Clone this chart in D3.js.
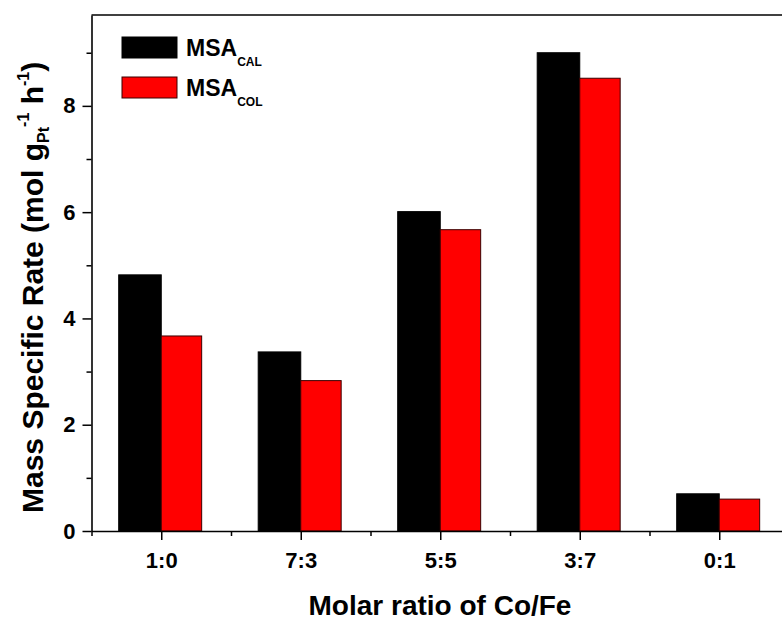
<!DOCTYPE html>
<html>
<head>
<meta charset="utf-8">
<script src="https://cdn.jsdelivr.net/npm/d3@7"></script>
<style>
  body { margin: 0; background: #fff; }
  svg { display: block; font-family: "Liberation Sans", Arial, sans-serif; font-weight: bold; }
</style>
</head>
<body>
<svg id="chart" width="782" height="621"></svg>
<script>
/* data */
var categories = ['1:0', '7:3', '5:5', '3:7', '0:1'];
var msaCal = [4.82, 3.37, 6.01, 9.00, 0.70];
var msaCol = [3.67, 2.83, 5.67, 8.52, 0.60];
var yTicks = [0, 2, 4, 6, 8];
var yMinor = [1, 3, 5, 7, 9];

var svg = d3.select('#chart');

var plotL = 91.5, plotR = 789, plotT = 15, plotB = 531;

var x = d3.scaleLinear().domain([0.5, categories.length + 0.5]).range([plotL, plotR]);
var y = d3.scaleLinear().domain([0, 9.71]).range([plotB, plotT]);

var barW = 0.305;

// bars
var g = svg.append('g');
g.selectAll('rect.cal')
  .data(msaCal)
  .enter().append('rect')
  .attr('class', 'cal')
  .attr('x', function(d, i) { return x(i + 1 - barW); })
  .attr('y', function(d) { return y(d); })
  .attr('width', x(1) - x(1 - barW))
  .attr('height', function(d) { return y(0) - y(d); })
  .attr('fill', '#000')
  .attr('stroke', '#000')
  .attr('stroke-width', 1);

g.selectAll('rect.col')
  .data(msaCol)
  .enter().append('rect')
  .attr('class', 'col')
  .attr('x', function(d, i) { return x(i + 1); })
  .attr('y', function(d) { return y(d); })
  .attr('width', x(1 + barW * 0.95) - x(1))
  .attr('height', function(d) { return y(0) - y(d); })
  .attr('fill', '#ff0000')
  .attr('stroke', '#3a0000')
  .attr('stroke-width', 1);

// frame top
svg.append('line')
  .attr('x1', plotL).attr('x2', plotR).attr('y1', plotT).attr('y2', plotT)
  .attr('stroke', '#000').attr('stroke-width', 1.6);

function styleTicks(a) {
  a.selectAll('.tick line').attr('stroke-width', 1.5);
  a.selectAll('.tick text')
    .attr('font-size', 22)
    .attr('font-family', '"Liberation Sans", Arial, sans-serif')
    .attr('font-weight', 'bold')
    .attr('fill', '#000');
}

// y axis
var yAxis = svg.append('g')
  .attr('transform', 'translate(' + plotL + ',0)')
  .call(d3.axisLeft(y).tickValues(yTicks).tickSize(9).tickPadding(7).tickSizeOuter(0))
  .call(styleTicks);
yAxis.select('.domain').attr('stroke-width', 1.6);

svg.append('g')
  .attr('transform', 'translate(' + plotL + ',0)')
  .call(d3.axisLeft(y).tickValues(yMinor).tickSize(5).tickFormat('').tickSizeOuter(0))
  .call(function(a) { a.select('.domain').remove(); a.selectAll('.tick line').attr('stroke-width', 1.5); });

// x axis
var xAxis = svg.append('g')
  .attr('transform', 'translate(0,' + plotB + ')')
  .call(d3.axisBottom(x).tickValues(d3.range(1, categories.length + 1))
    .tickFormat(function(d) { return categories[d - 1]; })
    .tickSize(9).tickPadding(12).tickSizeOuter(0))
  .call(styleTicks);
xAxis.select('.domain').attr('stroke-width', 1.6);

svg.append('g')
  .attr('transform', 'translate(0,' + plotB + ')')
  .call(d3.axisBottom(x).tickValues(d3.range(0.5, categories.length + 1, 1)).tickSize(5).tickFormat('').tickSizeOuter(0))
  .call(function(a) { a.select('.domain').remove(); a.selectAll('.tick line').attr('stroke-width', 1.5); });

// axis titles
svg.append('text')
  .attr('x', 440)
  .attr('y', 615)
  .attr('text-anchor', 'middle')
  .attr('font-size', 28)
  .text('Molar ratio of Co/Fe');

var yt = svg.append('text')
  .attr('transform', 'translate(43,513) rotate(-90)')
  .attr('font-size', 30);
yt.append('tspan').text('Mass Specific Rate (mol g');
yt.append('tspan').attr('font-size', 16).attr('dy', 6).text('Pt');
yt.append('tspan').attr('font-size', 16).attr('dy', -20).text('-1');
yt.append('tspan').attr('dy', 14).text(' h');
yt.append('tspan').attr('font-size', 16).attr('dy', -14).text('-1');
yt.append('tspan').attr('dy', 14).text(')');

// legend
var legend = [
  { name: 'MSA', sub: 'CAL', fill: '#000', stroke: '#000' },
  { name: 'MSA', sub: 'COL', fill: '#ff0000', stroke: '#3a0000' }
];
var lg = svg.selectAll('g.legend')
  .data(legend)
  .enter().append('g')
  .attr('class', 'legend')
  .attr('transform', function(d, i) { return 'translate(122,' + (37 + i * 40) + ')'; });
lg.append('rect')
  .attr('width', 55).attr('height', 21)
  .attr('fill', function(d) { return d.fill; })
  .attr('stroke', function(d) { return d.stroke; })
  .attr('stroke-width', 1);
var lt = lg.append('text').attr('x', 64).attr('y', 19).attr('font-size', 23);
lt.append('tspan').text(function(d) { return d.name; });
lt.append('tspan').attr('font-size', 12).attr('dy', 10).text(function(d) { return d.sub; });
</script>
</body>
</html>
